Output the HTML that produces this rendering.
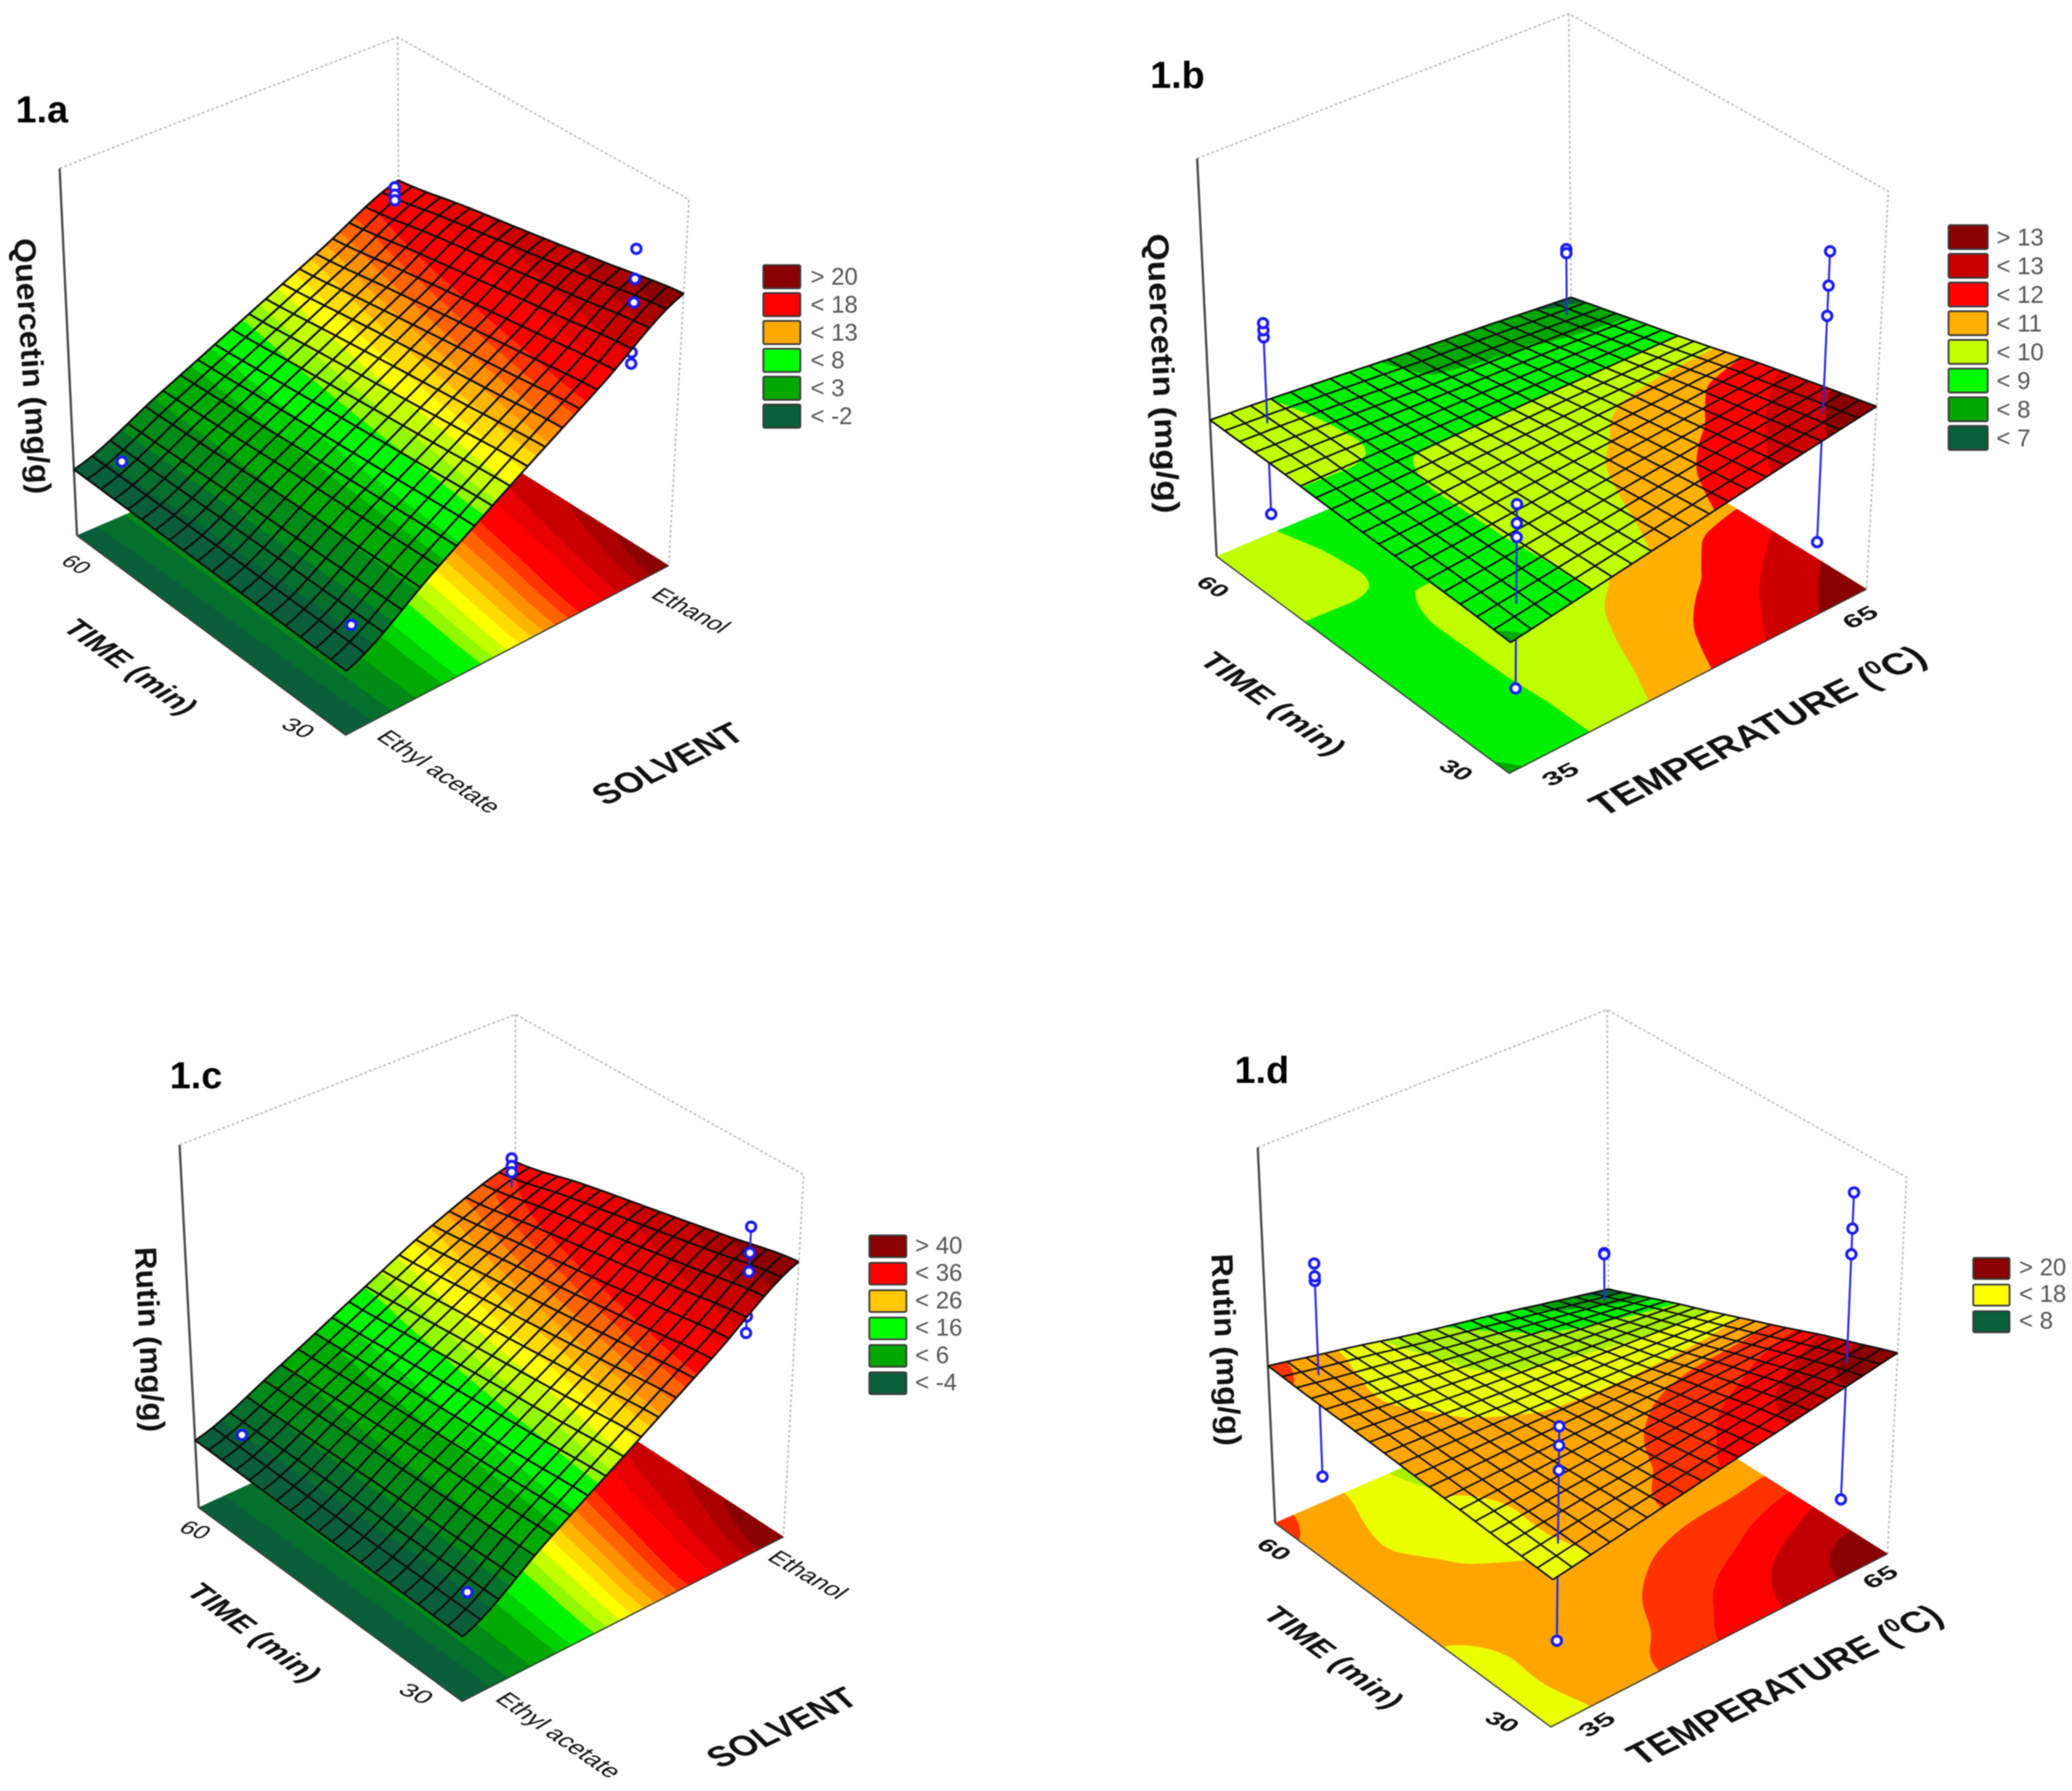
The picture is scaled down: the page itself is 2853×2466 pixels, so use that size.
<!DOCTYPE html>
<html lang="en">
<head>
<meta charset="utf-8">
<title>Response surfaces of quercetin and rutin</title>
<style>
  html, body { margin: 0; padding: 0; background: #fff; }
  #chart { display: block; filter: blur(0.7px); font-family: "Liberation Sans", sans-serif; }
</style>
</head>
<body>
<svg id="chart" xmlns="http://www.w3.org/2000/svg" width="2853" height="2466" viewBox="0 0 2853 2466">
  <rect x="0" y="0" width="2853" height="2466" fill="#ffffff"/>
</svg>
<script>
// ---------- DATA: response values (rows = time low to high, cols = factor low to high)
const quercetinSolventGrid = [
  [-1.5, 4.1, 9.7, 15.2, 21],
  [-1.35, 3.9, 9.1, 14.3, 19.6],
  [-1.2, 3.7, 8.5, 13.4, 18.2],
  [-1.05, 3.4, 7.9, 12.4, 16.9],
  [-0.9, 3.2, 7.3, 11.4, 15.5]
];
const quercetinTempGrid = [
  [8.3, 9.0, 9.75, 10.55, 11.25, 12.0, 12.85, 13.6, 14.3],
  [8.8, 9.1, 9.7, 10.2, 10.95, 11.6, 12.2, 13.0, 13.6],
  [9.0, 9.2, 9.7, 10.0, 10.6, 11.1, 11.55, 12.2, 12.85],
  [9.1, 9.2, 9.7, 10.0, 10.3, 10.6, 11.0, 11.6, 12.0],
  [9.2, 9.2, 9.7, 10.0, 10.2, 10.35, 10.45, 10.55, 10.6],
  [9.3, 9.3, 9.5, 9.5, 9.5, 9.5, 9.5, 9.5, 9.5],
  [9.75, 9.8, 9.3, 9.2, 9.1, 9.0, 9.0, 8.9, 8.8],
  [9.7, 9.7, 9.3, 8.9, 8.5, 8.4, 8.3, 8.1, 8.0],
  [9.7, 9.6, 9.2, 8.8, 8.3, 8.1, 7.9, 7.5, 7.2]
];
const rutinSolventGrid = [
  [-3.4, 8, 19.3, 31, 43],
  [-3.2, 7.4, 17.9, 28.8, 39.5],
  [-3, 6.9, 16.6, 26.6, 36],
  [-2.6, 6.2, 15.3, 24.5, 32.5],
  [-2.2, 5.4, 14, 22.5, 28.5]
];
const rutinTempGrid = [
  [15, 16.15, 17.4, 18.8, 20.25, 21.5, 22.9, 24.4, 26],
  [15.2, 16.4, 17.3, 17.9, 19.2, 20.6, 22, 23.3, 24],
  [15.6, 16.2, 16.9, 17.4, 18.2, 19, 19.9, 21, 22],
  [16, 16.3, 16.6, 16.8, 17.3, 17.8, 18.3, 18.6, 19],
  [16.5, 16.4, 16.4, 16.0, 15.8, 15.7, 15.8, 16.0, 16.5],
  [17, 16.6, 15.7, 15, 14.6, 14.4, 14.2, 14.1, 14],
  [17.4, 16.1, 15, 14.2, 13.5, 13, 12.6, 12.3, 12],
  [17.8, 16.3, 15.2, 13.9, 12.9, 11.9, 11, 10.3, 9.5],
  [18.6, 16.8, 15.3, 13.2, 12.0, 11.1, 9.7, 8.3, 7.2]
];

// Design runs: [factor level, time level, measured responses]
const quercetinSolventRuns = [
  [0.08, 0.92, [0.2]],
  [0.08, 0.08, [0.0]],
  [0.92, 0.92, [17.2, 16.4, 15.8]],
  [0.92, 0.08, [25.5, 22.3, 19.8, 14.5, 13.3]]
];
const quercetinTempRuns = [
  [0.09, 0.92, [0.5, 18, 18.7, 19.4]],
  [0.92, 0.92, [14.5, 14.1]],
  [0.92, 0.08, [29.4, 26, 23, 0.6]],
  [0.08, 0.08, [18.2, 16.4, 15.1, 0.9]]
];
const rutinSolventRuns = [
  [0.08, 0.92, [-0.5]],
  [0.08, 0.08, [-0.3]],
  [0.92, 0.92, [34.5, 32.8, 31.4]],
  [0.92, 0.08, [50.1, 44.4, 40.3, 30.6, 27]]
];
const rutinTempRuns = [
  [0.08, 0.92, [0, 33.6, 34.4, 36.6]],
  [0.92, 0.92, [17.7, 17.5]],
  [0.92, 0.08, [53.1, 46.9, 42.5, 0.5]],
  [0.08, 0.08, [34.9, 31.8, 27.8, 0.3]]
];

// Contour levels and band colours
const quercetinSolventLevels = [-0.2, 1.14, 2.96, 4.8, 5.8, 7.4, 8.25, 9.2, 10.06, 10.9, 11.7, 12.5, 13.4, 14.2, 16, 17.3, 19, 20];
const rutinSolventLevels = [-0.4, 2.28, 5.92, 9.6, 11.6, 14.8, 16.5, 18.4, 20.12, 21.8, 23.4, 25, 26.8, 28.4, 32, 34.6, 38, 40];
const solventBandColors = ['#0a5f3a','#056f2e','#008a18','#00aa00','#00d000','#00f600','#90f800','#c4ff00','#ffff00','#ffdc00','#ffb400','#ff9000','#ff6400','#ff3400','#ff0000','#e60000','#c80000','#aa0000','#8b0000'];
const quercetinTempLevels = [7.5, 8.5, 9.5, 10.5, 11.5, 12.5, 13.5];
const quercetinTempBandColors = ['#0a5f3a','#00a800','#00f000','#bfff00','#ffb000','#ff0000','#cc0000','#8b0000'];
const rutinTempLevels = [8, 10, 12, 14, 16, 18, 20, 22, 24];
const rutinTempBandColors = ['#0a5f3a','#00a000','#00f000','#a8f000','#eaff00','#ffa500','#ff3300','#ff0000','#c00000','#8b0000'];

// Legends
const legendLabelsA = ['> 20','< 18','< 13','< 8','< 3','< -2'];
const legendColorsA = ['#8b0000','#ff0000','#ffa800','#00ff00','#00a800','#0a5f3c'];
const legendLabelsB = ['> 13','< 13','< 12','< 11','< 10','< 9','< 8','< 7'];
const legendColorsB = ['#8b0000','#cc0000','#ff0000','#ffb000','#c4ff00','#00ff00','#00a800','#0a5f3c'];
const legendLabelsC = ['> 40','< 36','< 26','< 16','< 6','< -4'];
const legendColorsC = ['#8b0000','#ff0000','#ffc800','#00ff00','#00a800','#0a5f3c'];
const legendLabelsD = ['> 20','< 18','< 8'];
const legendColorsD = ['#8b0000','#ffff00','#0a5f3c'];

// ---------- PANEL GEOMETRY
const panels = [
  { id:'1a', title:'1.a', view:[0,0,1250/1568,1180/1568], grid:quercetinSolventGrid, runs:quercetinSolventRuns,
    levels:quercetinSolventLevels, colors:solventBandColors, zMin:-7.9, zMax:31, cells:19, stems:false, lineW:2.7, relief:1, smooth:true, tol:1,
    floor:[[597,1345],[1155,1035],[690,725],[133,980]], top:[[604,630],[1190,365],[687,68],[103,308]],
    titlePos:[27,224], legend:{x:1051,y:365,w:51,h:32,step:38.4,tx:1116,labels:legendLabelsA,colors:legendColorsA},
    labels:[
      {txt:'Quercetin  (mg/g)',a:[24,437],b:[52,905],size:42,w:'bold',sk:0,n:'y-axis-title'},
      {txt:'TIME (min)',a:[105,1150],b:[315,1310],size:39,w:'bold',sk:-24,n:'time-axis-title'},
      {txt:'60',a:[103,1030],b:[140,1052],size:28,w:'normal',sk:-24,n:'time-tick-60'},
      {txt:'30',a:[483,1330],b:[528,1352],size:28,w:'normal',sk:-24,n:'time-tick-30'},
      {txt:'Ethyl acetate',a:[648,1350],b:[845,1490],size:31,w:'normal',sk:-24,n:'solvent-tick-ethyl-acetate'},
      {txt:'Ethanol',a:[1122,1092],b:[1243,1160],size:30,w:'normal',sk:-24,n:'solvent-tick-ethanol'},
      {txt:'SOLVENT',a:[1045,1475],b:[1290,1350],size:44,w:'bold',sk:20,n:'solvent-axis-title'}
    ]},
  { id:'1b', title:'1.b', view:[1500,0,1353/1568,1180/1568], grid:quercetinTempGrid, runs:quercetinTempRuns,
    levels:quercetinTempLevels, colors:quercetinTempBandColors, zMin:-3.8, zMax:35.6, cells:19, stems:true, lineW:2.4, relief:0.25, smooth:false, tol:0,
    floor:[[670,1415],[1240,1078],[770,745],[203,1018]], top:[[677,635],[1275,350],[765,25],[172,290]],
    titlePos:[97,161], legend:{x:2683,y:310,w:54,h:33,step:39.5,tx:2749,labels:legendLabelsB,colors:legendColorsB},
    labels:[
      {txt:'Quercetin  (mg/g)',a:[92,428],b:[110,940],size:42,w:'bold',sk:0,n:'y-axis-title'},
      {txt:'TIME (min)',a:[172,1210],b:[385,1385],size:39,w:'bold',sk:-24,n:'time-axis-title'},
      {txt:'60',a:[168,1068],b:[207,1095],size:28,w:'bold',sk:-24,n:'time-tick-60'},
      {txt:'30',a:[555,1405],b:[597,1430],size:28,w:'bold',sk:-24,n:'time-tick-30'},
      {txt:'35',a:[735,1440],b:[785,1412],size:28,w:'bold',sk:20,n:'temperature-tick-35'},
      {txt:'65',a:[1215,1152],b:[1262,1125],size:28,w:'bold',sk:20,n:'temperature-tick-65'},
      {txt:'TEMPERATURE (',sup:'0',tail:'C)',a:[820,1495],b:[1340,1210],size:46,w:'bold',sk:20,n:'temperature-axis-title'}
    ]},
  { id:'1c', title:'1.c', view:[150,1360,1250/1568,1106/1568], grid:rutinSolventGrid, runs:rutinSolventRuns,
    levels:rutinSolventLevels, colors:solventBandColors, zMin:-16.8, zMax:61.9, cells:19, stems:true, lineW:2.6, relief:1, smooth:true, tol:1,
    floor:[[610,1393],[1165,1072],[702,730],[155,1015]], top:[[615,650],[1200,365],[702,52],[122,307]],
    titlePos:[105,196], legend:{x:1197,y:1701,w:51,h:30,step:37.7,tx:1260,labels:legendLabelsC,colors:legendColorsC},
    labels:[
      {txt:'Rutin  (mg/g)',a:[45,507],b:[60,868],size:42,w:'bold',sk:0,n:'y-axis-title'},
      {txt:'TIME (min)',a:[130,1180],b:[340,1358],size:39,w:'bold',sk:-24,n:'time-axis-title'},
      {txt:'60',a:[118,1060],b:[162,1078],size:28,w:'normal',sk:-24,n:'time-tick-60'},
      {txt:'30',a:[497,1375],b:[545,1400],size:28,w:'normal',sk:-24,n:'time-tick-30'},
      {txt:'Ethyl acetate',a:[665,1390],b:[865,1545],size:31,w:'normal',sk:-24,n:'solvent-tick-ethyl-acetate'},
      {txt:'Ethanol',a:[1135,1115],b:[1258,1195],size:30,w:'normal',sk:-24,n:'solvent-tick-ethanol'},
      {txt:'SOLVENT',a:[1055,1525],b:[1298,1395],size:44,w:'bold',sk:20,n:'solvent-axis-title'}
    ]},
  { id:'1d', title:'1.d', view:[1600,1360,1253/1568,1106/1568], grid:rutinTempGrid, runs:rutinTempRuns,
    levels:rutinTempLevels, colors:rutinTempBandColors, zMin:-8.4, zMax:56.1, cells:19, stems:true, lineW:2.3, relief:0.25, smooth:true, tol:0,
    floor:[[670,1443],[1250,1105],[770,762],[195,1045]], top:[[680,650],[1283,370],[767,43],[165,312]],
    titlePos:[125,186], legend:{x:2717,y:1732,w:50,h:29,step:36.7,tx:2780,labels:legendLabelsD,colors:legendColorsD},
    labels:[
      {txt:'Rutin  (mg/g)',a:[85,520],b:[100,895],size:42,w:'bold',sk:0,n:'y-axis-title'},
      {txt:'TIME (min)',a:[170,1225],b:[390,1410],size:39,w:'bold',sk:-24,n:'time-axis-title'},
      {txt:'60',a:[160,1090],b:[205,1120],size:28,w:'bold',sk:-24,n:'time-tick-60'},
      {txt:'30',a:[553,1430],b:[600,1455],size:28,w:'bold',sk:-24,n:'time-tick-30'},
      {txt:'35',a:[733,1465],b:[785,1430],size:28,w:'bold',sk:20,n:'temperature-tick-35'},
      {txt:'65',a:[1222,1175],b:[1272,1145],size:28,w:'bold',sk:20,n:'temperature-tick-65'},
      {txt:'TEMPERATURE (',sup:'0',tail:'C)',a:[825,1520],b:[1350,1235],size:46,w:'bold',sk:20,n:'temperature-axis-title'}
    ]}
];

// ---------- HELPERS
const NS = 'http://www.w3.org/2000/svg';
const root = document.getElementById('chart');
function make(tag, attrs, parent) {
  const e = document.createElementNS(NS, tag);
  for (const k in attrs) e.setAttribute(k, attrs[k]);
  parent.appendChild(e);
  return e;
}
function toReal(view, p) { return [view[0] + p[0] * view[2], view[1] + p[1] * view[3]]; }
function homography(q) {
  const [x0,y0]=q[0],[x1,y1]=q[1],[x2,y2]=q[2],[x3,y3]=q[3];
  const dx1=x1-x2,dx2=x3-x2,sx=x0-x1+x2-x3,dy1=y1-y2,dy2=y3-y2,sy=y0-y1+y2-y3;
  const den=dx1*dy2-dx2*dy1;
  const g=(sx*dy2-dx2*sy)/den,h=(dx1*sy-sx*dy1)/den;
  const a=x1-x0+g*x1,b=x3-x0+h*x3,d=y1-y0+g*y1,e=y3-y0+h*y3;
  return (u,v)=>{const w=g*u+h*v+1;return [(a*u+b*v+x0)/w,(d*u+e*v+y0)/w];};
}
function cubic(p0,p1,p2,p3,t){
  return 0.5*((2*p1)+(-p0+p2)*t+(2*p0-5*p1+4*p2-p3)*t*t+(-p0+3*p1-3*p2+p3)*t*t*t);
}
function gridValue(grid,s,t,smooth){
  const R=grid.length,C=grid[0].length;
  const u=Math.min(s,0.999999)*(C-1),v=Math.min(t,0.999999)*(R-1);
  const c=Math.floor(u),r=Math.floor(v),fu=u-c,fv=v-r;
  if(!smooth){
    const a=grid[r][c],b=grid[r][c+1],d=grid[r+1][c],e=grid[r+1][c+1];
    return (a+(b-a)*fu)*(1-fv)+(d+(e-d)*fu)*fv;
  }
  const vals=[];
  for(let i=-1;i<=2;i++){
    const row=grid[Math.max(0,Math.min(R-1,r+i))];
    const at=k=>row[Math.max(0,Math.min(C-1,k))];
    vals.push(cubic(at(c-1),at(c),at(c+1),at(c+2),fu));
  }
  return cubic(vals[0],vals[1],vals[2],vals[3],fv);
}
function clipPoly(poly,lim,above){
  const out=[];
  for(let i=0;i<poly.length;i++){
    const A=poly[i],B=poly[(i+1)%poly.length];
    const ia=above?A.z>=lim:A.z<=lim,ib=above?B.z>=lim:B.z<=lim;
    if(ia) out.push(A);
    if(ia!==ib){
      const f=(lim-A.z)/(B.z-A.z);
      out.push({s:A.s+(B.s-A.s)*f,t:A.t+(B.t-A.t)*f,z:lim});
    }
  }
  return out;
}
const fmt=n=>n.toFixed(1);

// ---------- DRAW
panels.forEach(function(P){
  const g=make('g',{},root);
  
  
  const hF=homography(P.floor.map(p=>toReal(P.view,p)));
  const hT=homography(P.top.map(p=>toReal(P.view,p)));
  const wOf=z=>(z-P.zMin)/(P.zMax-P.zMin);
  const project=(s,t,w)=>{const a=hF(s,t),b=hT(s,t);return [a[0]+(b[0]-a[0])*w,a[1]+(b[1]-a[1])*w];};
  const surf=(s,t)=>gridValue(P.grid,s,t,P.smooth);
  const rows=P.grid.length,cols=P.grid[0].length;
  const c00=P.grid[0][0],c10=P.grid[0][cols-1],c01=P.grid[rows-1][0],c11=P.grid[rows-1][cols-1];
  const height=(s,t)=>{
    const base=(c00+(c10-c00)*s)*(1-t)+(c01+(c11-c01)*s)*t;
    return base+P.relief*(surf(s,t)-base);
  };

  // Box lines
  const bl=project(0,1,0),tl=project(0,1,1),bb=project(1,1,0),tb=project(1,1,1),br=project(1,0,0),tr=project(1,0,1),bf=project(0,0,0);
  const boxDots=make('path',{d:`M${tl}L${tb}L${tr}L${br}M${tb}L${bb}`,fill:'none',stroke:'#bdbdbd','stroke-width':2.2,'stroke-dasharray':'4 3'},g);
  
  

  // Band paths: floor contours or surface
  function drawBands(isSurface){
    const N=Math.max(48,P.cells*3);
    const paths=P.colors.map(()=>[]);
    const vals=[];
    for(let j=0;j<=N;j++){const r=[];for(let i=0;i<=N;i++)r.push(surf(i/N,j/N));vals.push(r);}
    for(let j=0;j<N;j++)for(let i=0;i<N;i++){
      const poly=[{s:i/N,t:j/N,z:vals[j][i]},{s:(i+1)/N,t:j/N,z:vals[j][i+1]},{s:(i+1)/N,t:(j+1)/N,z:vals[j+1][i+1]},{s:i/N,t:(j+1)/N,z:vals[j+1][i]}];
      const zs=poly.map(v=>v.z),mn=Math.min(...zs),mx=Math.max(...zs);
      P.colors.forEach((c,b)=>{
        const lo=b===0?-Infinity:P.levels[b-1],hi=b===P.colors.length-1?Infinity:P.levels[b];
        if(mx<lo||mn>hi)return;
        let q=poly;
        if(lo>-Infinity)q=clipPoly(q,lo,true);
        if(q.length&&hi<Infinity)q=clipPoly(q,hi,false);
        if(q.length<3)return;
        const pts=q.map(v=>{const xy=project(v.s,v.t,isSurface?wOf(height(v.s,v.t)):0);return fmt(xy[0])+' '+fmt(xy[1]);});
        paths[b].push('M'+pts.join('L')+'Z');
      });
    }
    const layer=make('g',{},g);
    
    
    paths.forEach((d,b)=>{
      if(!d.length)return;
      const band=make('path',{d:d.join(''),fill:P.colors[b],stroke:P.colors[b],'stroke-width':0.8,'stroke-linejoin':'round'},layer);
      
      
    });
    return layer;
  }

  drawBands(false);

  // Floor and left-axis edges
  const edges=make('path',{d:`M${bl}L${bf}L${br}`,fill:'none',stroke:'#3a3a3a','stroke-width':1.8},g);
  
  
  const axisLine=make('path',{d:`M${tl}L${bl}`,fill:'none',stroke:'#4d4d4d','stroke-width':3.2},g);
  
  

  // Design points: those below the surface go before it, the rest after it
  function drawRuns(above){
    const layer=make('g',{},g);
    
    
    P.runs.forEach(function(run){
      const s=run[0],t=run[1],zSurf=height(s,t);
      const chosen=run[2].filter(z=>above?z>=zSurf-P.tol:z<zSurf-P.tol);
      if(!chosen.length)return;
      if(P.stems){
        const far=above?Math.max(...chosen):Math.min(...chosen);
        const a=project(s,t,wOf(far)),b=project(s,t,wOf(zSurf));
        const stem=make('line',{x1:a[0],y1:a[1],x2:b[0],y2:b[1],stroke:'#2a2ae6','stroke-width':2.8},layer);
        
        
      }
      chosen.forEach(function(z){
        const xy=project(s,t,wOf(z));
        const dot=make('circle',{cx:xy[0],cy:xy[1],r:6.5,fill:'#ffffff',stroke:'#1a1aff','stroke-width':4},layer);
        
        
      });
    });
  }
  drawRuns(false);
  drawBands(true);

  // Surface mesh
  let mesh='';
  const n=P.cells,m=n*2;
  for(let i=0;i<=n;i++){
    let a='',b='';
    for(let k=0;k<=m;k++){
      const xy1=project(i/n,k/m,wOf(height(i/n,k/m)));
      a+=(k?'L':'M')+fmt(xy1[0])+' '+fmt(xy1[1]);
      const xy2=project(k/m,i/n,wOf(height(k/m,i/n)));
      b+=(k?'L':'M')+fmt(xy2[0])+' '+fmt(xy2[1]);
    }
    mesh+=a+b;
  }
  const meshPath=make('path',{d:mesh,fill:'none',stroke:'#0d0d0d','stroke-width':P.lineW,'stroke-linejoin':'round'},g);
  
  

  drawRuns(true);

  // Panel letter
  const tp=toReal(P.view,P.titlePos);
  const title=make('text',{x:tp[0],y:tp[1],'font-size':52,'font-weight':'bold',fill:'#000'},g);
  title.textContent=P.title;
  
  

  // Axis text
  P.labels.forEach(function(L){
    const a=toReal(P.view,L.a),b=toReal(P.view,L.b);
    const dx=b[0]-a[0],dy=b[1]-a[1],len=Math.hypot(dx,dy),ang=Math.atan2(dy,dx)*180/Math.PI;
    const t=make('text',{'font-size':L.size,'font-weight':L.w,fill:'#111111',textLength:len.toFixed(1),lengthAdjust:'spacingAndGlyphs',
      transform:`translate(${a[0].toFixed(1)} ${a[1].toFixed(1)}) rotate(${ang.toFixed(2)}) skewX(${L.sk})`,'xml:space':'preserve'},g);
    
    
    if(L.sup){
      const t1=make('tspan',{},t);t1.textContent=L.txt;
      const t2=make('tspan',{dy:-16,'font-size':L.size*0.62},t);t2.textContent=L.sup;
      const t3=make('tspan',{dy:16},t);t3.textContent=L.tail;
    } else {
      t.textContent=L.txt;
    }
  });

  // Legend
  const lg=make('g',{},g);
  
  
  P.legend.labels.forEach(function(lab,i){
    const y=P.legend.y+i*P.legend.step;
    const sw=make('rect',{x:P.legend.x,y:y,width:P.legend.w,height:P.legend.h,rx:2,fill:P.legend.colors[i],stroke:'#3a3a3a','stroke-width':2.4},lg);
    
    
    const tx=make('text',{x:P.legend.tx,y:y+P.legend.h-5,'font-size':33,fill:'#555555'},lg);
    tx.textContent=lab;
    
    
  });
});
</script>
</body>
</html>
